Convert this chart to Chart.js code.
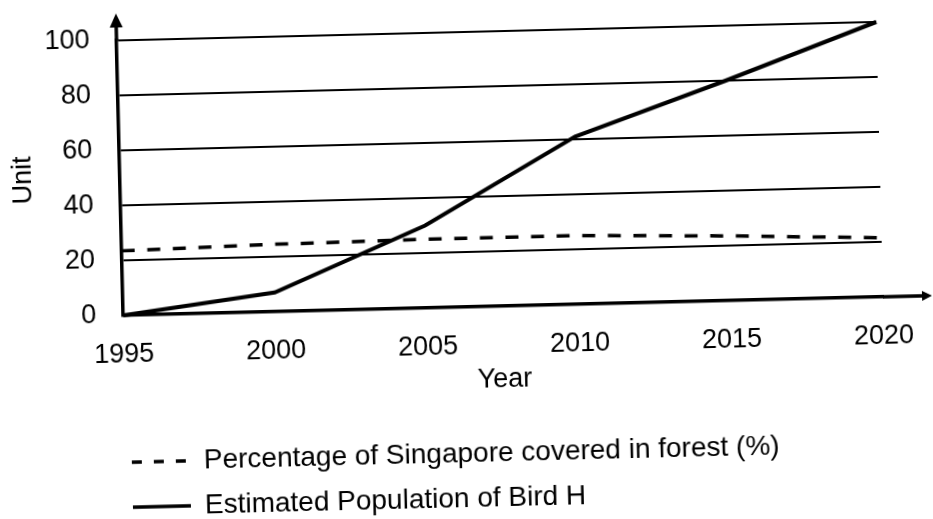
<!DOCTYPE html>
<html><head><meta charset="utf-8">
<script src="https://cdn.jsdelivr.net/npm/chart.js@4"></script>
<style>
html,body{margin:0;padding:0;background:#fff;overflow:hidden}
#wrap{width:933px;height:519px;transform:rotate(-1.4deg);transform-origin:50% 50%}
canvas{display:block}
</style></head>
<body><div id="wrap"><canvas id="c" width="933" height="519"></canvas></div>
<script>
const years = ['1995', '2000', '2005', '2010', '2015', '2020'];
const forestPct = [23.5, 24.5, 25, 25, 23.5, 21.5];
const birdPop = [0, 7, 30, 61, 80, 100];
const yTicks = [0, 20, 40, 60, 80, 100];
const seriesNames = ['Percentage of Singapore covered in forest (%)', 'Estimated Population of Bird H'];
const axisTitles = { x: 'Year', y: 'Unit' };

Chart.defaults.font.family = "'Liberation Sans', Arial, sans-serif";
Chart.defaults.font.size = 27;
Chart.defaults.color = '#000';

const axisArrows = {
  id: 'axisArrows',
  afterDraw(chart) {
    const { ctx, chartArea: { left, right, top, bottom } } = chart;
    ctx.save();
    ctx.strokeStyle = '#000'; ctx.fillStyle = '#000'; ctx.lineWidth = 3.5;
    ctx.beginPath(); ctx.moveTo(left, top); ctx.lineTo(left, top - 14); ctx.stroke();
    ctx.beginPath(); ctx.moveTo(left, top - 27); ctx.lineTo(left - 6.5, top - 13); ctx.lineTo(left + 6.5, top - 13); ctx.closePath(); ctx.fill();
    ctx.beginPath(); ctx.moveTo(right, bottom); ctx.lineTo(right + 42, bottom); ctx.stroke();
    ctx.beginPath(); ctx.moveTo(right + 49, bottom); ctx.lineTo(right + 39, bottom - 5); ctx.lineTo(right + 39, bottom + 5); ctx.closePath(); ctx.fill();
    ctx.restore();
  }
};

const legendTweak = {
  id: 'legendTweak',
  afterLayout(chart) {
    const lg = chart.legend;
    if (lg) { lg.left -= 12; lg.right -= 12; lg.top += 4; lg.bottom += 4; }
  }
};

new Chart(document.getElementById('c'), {
  type: 'line',
  data: {
    labels: years,
    datasets: [
      { label: seriesNames[0], data: forestPct, borderColor: '#000', backgroundColor: '#000',
        borderWidth: 3.5, borderDash: [13, 12.6], pointRadius: 0, tension: 0, clip: 8 },
      { label: seriesNames[1], data: birdPop, borderColor: '#000', backgroundColor: '#000',
        borderWidth: 4, pointRadius: 0, tension: 0, clip: 8 }
    ]
  },
  options: {
    responsive: false,
    animation: false,
    devicePixelRatio: 1,
    layout: { padding: { top: 32, right: 51, bottom: 0, left: 0 } },
    plugins: {
      tooltip: { enabled: false },
      legend: {
        position: 'bottom',
        align: 'start',
        fullSize: false,
        labels: {
          usePointStyle: true,
          pointStyle: 'line',
          pointStyleWidth: 58,
          padding: 17,
          color: '#000',
          font: { size: 28 },
          generateLabels(chart) {
            const items = Chart.defaults.plugins.legend.labels.generateLabels(chart);
            items.forEach((it, i) => {
              it.pointStyle = 'line';
              it.lineDash = i === 0 ? [10, 12] : [];
              it.lineWidth = 3.5;
              it.strokeStyle = '#000';
              it.fontColor = '#000';
            });
            return items;
          }
        }
      }
    },
    scales: {
      x: {
        afterFit: s => { s.height = 112; },
        grid: { display: false },
        border: { display: true, color: '#000', width: 3.5 },
        ticks: { padding: 15, maxRotation: 0, autoSkip: false, color: '#000' },
        title: { display: true, text: axisTitles.x, color: '#000', padding: { top: 10, bottom: 22 } }
      },
      y: {
        min: 0, max: 100,
        afterFit: s => { s.width = 122; s.paddingTop = 16; s.paddingBottom = 16; },
        afterBuildTicks: s => { s.ticks = yTicks.map(v => ({ value: v })); },
        grid: { color: '#000', lineWidth: 2, drawTicks: false },
        border: { display: true, color: '#000', width: 3.5 },
        ticks: { padding: 27, color: '#000' },
        title: { display: true, text: axisTitles.y, color: '#000', padding: { top: 9, bottom: 9 } }
      }
    }
  },
  plugins: [axisArrows, legendTweak]
});
</script>
</body></html>
